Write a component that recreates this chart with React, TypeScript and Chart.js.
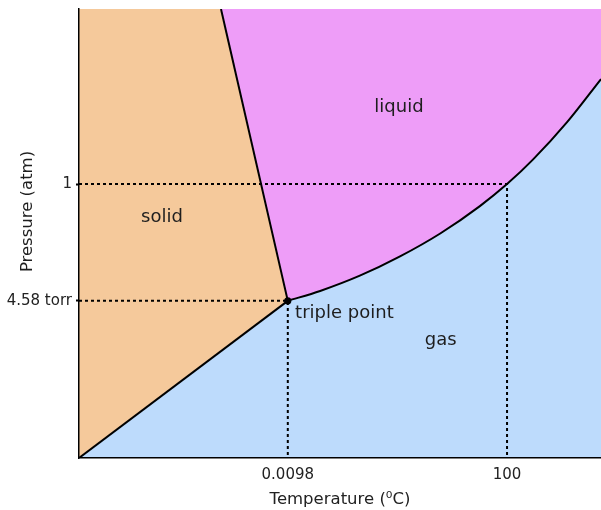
import React, { useEffect, useRef } from 'react';
import { Chart, registerables } from 'chart.js';

Chart.register(...registerables);

// ---- data (diagram units: both axes run 0..100) ----
const xTickValues = [40, 82];
const xTickLabels = ['0.0098', '100'];
const yTickValues = [35, 61];
const yTickLabels = ['4.58 torr', '1'];

const xTitle = 'Temperature (\u2070C)';
const yTitle = 'Pressure (atm)';

const triplePoint = { x: 40, y: 35 };
const boilingPoint = { x: 82, y: 61 };

// solid–gas boundary (sublimation curve)
const sublimationX = [0, 40];
const sublimationY = [0, 35];
// solid–liquid boundary (melting curve), from triple point to top edge
const meltingX = [40, 27.2];
const meltingY = [35, 100];
// liquid–gas boundary (vapour-pressure curve)
const vaporX = [40, 46.2, 53.8, 61.5, 69.2, 76.8, 82, 87, 93.5, 100];
const vaporY = [35, 37.2, 40.6, 44.9, 50, 56.1, 61, 66.5, 74.8, 84.4];

const regionNames = ['liquid', 'solid', 'gas', 'triple point'];
const regionX = [61.3, 15.9, 69.3, 41.4];
const regionY = [78.2, 53.7, 26.1, 32.3];
const regionAlign = ['center', 'center', 'center', 'left'];

const SOLID = '#F5C99B';
const LIQUID = '#EE9DF8';
const GAS = '#BDDBFC';
const FONT = '"DejaVu Sans", "Noto Sans", sans-serif';

const toPts = (xs: number[], ys: number[]) => xs.map((x, i) => ({ x, y: ys[i] }));

const labelPlugin = {
  id: 'phaseLabels',
  afterDatasetsDraw(chart: any) {
    const { ctx, scales, chartArea } = chart;
    const xs = scales.x;
    const ys = scales.y;
    ctx.save();
    ctx.fillStyle = '#1e1e1e';
    ctx.font = '18px ' + FONT;
    ctx.textBaseline = 'middle';
    regionNames.forEach((t, i) => {
      ctx.textAlign = regionAlign[i];
      ctx.fillText(t, xs.getPixelForValue(regionX[i]), ys.getPixelForValue(regionY[i]));
    });
    ctx.font = '16.5px ' + FONT;
    ctx.textAlign = 'center';
    ctx.translate(28, (chartArea.top + chartArea.bottom) / 2 - 22);
    ctx.rotate(-Math.PI / 2);
    ctx.fillText(yTitle, 0, 0);
    ctx.restore();
  },
};

export default function App() {
  const ref = useRef<HTMLCanvasElement | null>(null);

  useEffect(() => {
    if (!ref.current) return;
    const sub = toPts(sublimationX, sublimationY);
    const melt = toPts(meltingX, meltingY);
    const vap = toPts(vaporX, vaporY);
    const gasUpper = [sub[0], ...vap];
    const solidUpper = [{ x: 0, y: 100 }, melt[1], melt[0]];
    const none = 'rgba(0,0,0,0)';
    const area = (data: any[], fill: any, color: string, order: number) => ({
      data,
      fill,
      backgroundColor: color,
      borderColor: none,
      borderWidth: 0,
      pointRadius: 0,
      order,
    });
    const stroke = (data: any[], order: number, dash: number[] = [], smooth = false) => ({
      data,
      fill: false,
      borderColor: '#000',
      borderWidth: 2,
      borderDash: dash,
      pointRadius: 0,
      cubicInterpolationMode: smooth ? 'monotone' : 'default',
      tension: smooth ? 0.4 : 0,
      order,
    });

    const chart = new Chart(ref.current, {
      type: 'line',
      data: {
        datasets: [
          area(gasUpper, 'start', GAS, 100) as any,
          area(gasUpper, 'end', LIQUID, 99),
          area(solidUpper, false, none, 98),
          area(sub, 2, SOLID, 97),
          stroke([{ x: 0, y: boilingPoint.y }, boilingPoint, { x: boilingPoint.x, y: 0 }], 50, [3, 3]),
          stroke([{ x: 0, y: triplePoint.y }, triplePoint, { x: triplePoint.x, y: 0 }], 49, [3, 3]),
          stroke(sub, 20),
          stroke(melt, 19),
          stroke(vap, 18, [], true),
          {
            data: [triplePoint],
            showLine: false,
            pointRadius: 3.6,
            pointHoverRadius: 3.6,
            pointBackgroundColor: '#000',
            pointBorderWidth: 0,
            order: 0,
          },
        ],
      },
      options: {
        animation: false,
        responsive: false,
        devicePixelRatio: 1,
        layout: { autoPadding: false, padding: { top: 9, right: 0, bottom: 0, left: 0 } },
        plugins: {
          legend: { display: false },
          tooltip: { enabled: false },
          filler: { propagate: false },
        },
        elements: { line: { tension: 0 } },
        scales: {
          x: {
            type: 'linear',
            min: 0,
            max: 100,
            afterFit: (s: any) => {
              s.height = 52;
              s.paddingLeft = 0;
              s.paddingRight = 0;
            },
            afterBuildTicks: (s: any) => {
              s.ticks = xTickValues.map((v) => ({ value: v }));
            },
            ticks: {
              callback: (_v: any, i: number) => xTickLabels[i],
              padding: 8,
              color: '#222',
              font: { family: FONT, size: 15 },
              maxRotation: 0,
              autoSkip: false,
            },
            grid: { display: false, drawTicks: false },
            border: { display: true, color: '#000', width: 1.5, z: 1 },
            title: {
              display: true,
              text: xTitle,
              color: '#222',
              font: { family: FONT, size: 16.5 },
              padding: { top: 0, bottom: 0 },
            },
          },
          y: {
            type: 'linear',
            min: 0,
            max: 100,
            afterFit: (s: any) => {
              s.width = 79;
              s.paddingTop = 0;
              s.paddingBottom = 0;
            },
            afterBuildTicks: (s: any) => {
              s.ticks = yTickValues.map((v) => ({ value: v }));
            },
            ticks: {
              callback: (_v: any, i: number) => yTickLabels[i],
              padding: 4,
              color: '#222',
              font: { family: FONT, size: 15 },
              autoSkip: false,
            },
            grid: {
              display: true,
              drawOnChartArea: false,
              drawTicks: true,
              tickLength: 3,
              tickWidth: 2,
              tickColor: '#000',
            },
            border: { display: true, color: '#000', width: 1.5, z: 1 },
          },
        },
      } as any,
      plugins: [labelPlugin as any],
    });
    return () => chart.destroy();
  }, []);

  return (
    <div style={{ position: 'absolute', left: 0, top: 0, width: 601, height: 510 }}>
      <canvas ref={ref} width={601} height={510} />
    </div>
  );
}
